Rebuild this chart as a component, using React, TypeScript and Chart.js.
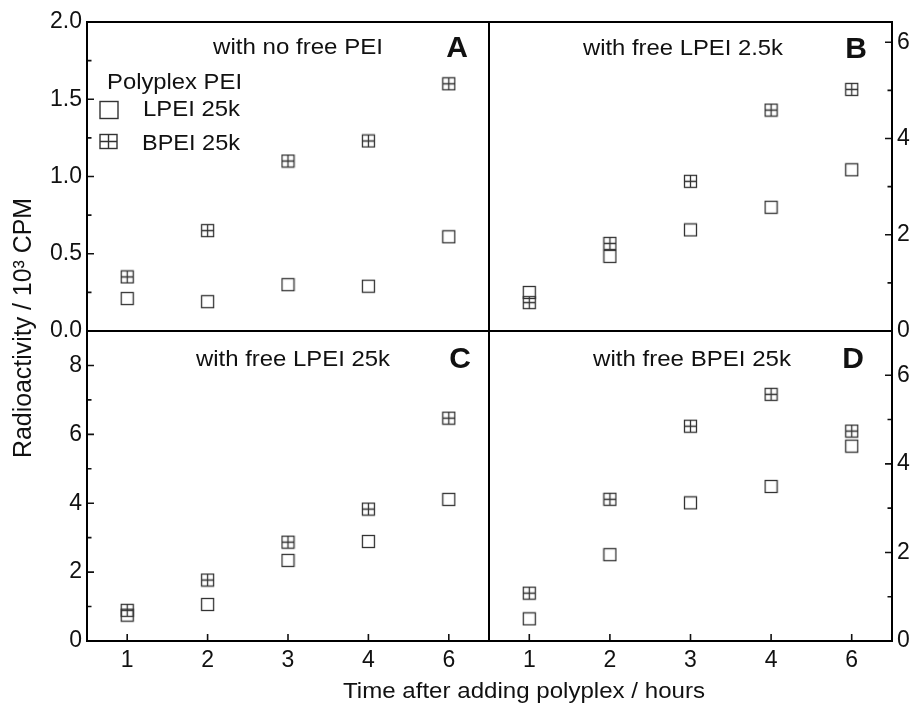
import React, { useEffect, useRef } from 'react';
import { Chart, registerables } from 'chart.js';

Chart.register(...registerables);

// ---------- data ----------
const timeLabels = ['1', '2', '3', '4', '6'];

const noFreeLPEI = [0.21, 0.19, 0.30, 0.29, 0.61];
const noFreeBPEI = [0.35, 0.65, 1.10, 1.23, 1.60];

const lpei25LPEI_B = [0.80, 1.55, 2.10, 2.57, 3.35];
const lpei25BPEI_B = [0.59, 1.82, 3.11, 4.59, 5.02];

const lpei25kLPEI = [0.75, 1.06, 2.34, 2.89, 4.11];
const lpei25kBPEI = [0.89, 1.77, 2.87, 3.83, 6.47];

const bpei25kLPEI = [0.50, 1.95, 3.12, 3.49, 4.40];
const bpei25kBPEI = [1.08, 3.20, 4.85, 5.57, 4.74];

const panelTitles = ['with no free PEI', 'with free LPEI 2.5k', 'with free LPEI 25k', 'with free BPEI 25k'];
const panelLetters = ['A', 'B', 'C', 'D'];
const seriesNames = ['LPEI 25k', 'BPEI 25k'];
const legendTitle = 'Polyplex PEI';
const xTitle = 'Time after adding polyplex / hours';
const yTitle = 'Radioactivity / 10\u00B3 CPM';

const FONT = "'Liberation Sans', Arial, Helvetica, sans-serif";
const W = 912;
const H = 705;

type PanelCfg = {
  lp: number[];
  bp: number[];
  max: number;
  step: number;
  minor: number;
  decimals: number;
  side: 'left' | 'right';
  showX: boolean;
  area: [number, number, number, number];
  title: string;
  titleX: number;
  titleY: number;
  titleW: number;
  letter: string;
  letterX: number;
  letterY: number;
  extra?: boolean;
};

const panels: PanelCfg[] = [
  { lp: noFreeLPEI, bp: noFreeBPEI, max: 2, step: 0.5, minor: 0.25, decimals: 1, side: 'left', showX: false,
    area: [87, 22, 489, 331], title: panelTitles[0], titleX: 298, titleY: 46, titleW: 170,
    letter: panelLetters[0], letterX: 457, letterY: 46, extra: true },
  { lp: lpei25LPEI_B, bp: lpei25BPEI_B, max: 6.42, step: 2, minor: 1, decimals: 0, side: 'right', showX: false,
    area: [489, 22, 892, 331], title: panelTitles[1], titleX: 683, titleY: 47, titleW: 200,
    letter: panelLetters[1], letterX: 856, letterY: 47 },
  { lp: lpei25kLPEI, bp: lpei25kBPEI, max: 9, step: 2, minor: 1, decimals: 0, side: 'left', showX: true,
    area: [87, 331, 489, 641], title: panelTitles[2], titleX: 293, titleY: 358, titleW: 194,
    letter: panelLetters[2], letterX: 460, letterY: 357 },
  { lp: bpei25kLPEI, bp: bpei25kBPEI, max: 7, step: 2, minor: 1, decimals: 0, side: 'right', showX: true,
    area: [489, 331, 892, 641], title: panelTitles[3], titleX: 692, titleY: 358, titleW: 198,
    letter: panelLetters[3], letterX: 853, letterY: 357 },
];

function makeMarker(cross: boolean): HTMLCanvasElement {
  const c = document.createElement('canvas');
  c.width = 15;
  c.height = 15;
  const g = c.getContext('2d')!;
  g.strokeStyle = '#333';
  g.lineWidth = 1.3;
  g.strokeRect(1.5, 1.5, 12, 12);
  if (cross) {
    g.beginPath();
    g.moveTo(7.5, 1.5);
    g.lineTo(7.5, 13.5);
    g.moveTo(1.5, 7.5);
    g.lineTo(13.5, 7.5);
    g.stroke();
  }
  return c;
}

function fitText(
  ctx: CanvasRenderingContext2D, text: string, x: number, cy: number, size: number,
  weight: string, width: number | null, align: CanvasTextAlign = 'center', rotate = 0
) {
  ctx.save();
  ctx.font = `${weight} ${size}px ${FONT}`;
  const m = ctx.measureText(text).width;
  const sx = width ? width / m : 1;
  ctx.translate(x, cy);
  if (rotate) ctx.rotate(rotate);
  ctx.scale(sx, 1);
  ctx.textAlign = align;
  ctx.textBaseline = 'alphabetic';
  ctx.fillStyle = '#111';
  ctx.fillText(text, 0, size * 0.358);
  ctx.restore();
}

function Panel({ cfg }: { cfg: PanelCfg }) {
  const ref = useRef<HTMLCanvasElement>(null);
  useEffect(() => {
    const [l, t, r, b] = cfg.area;
    const yW = cfg.side === 'left' ? 60 : 20;
    const xH = cfg.showX ? 40 : 0;
    const mLP = makeMarker(false);
    const mBP = makeMarker(true);
    const plugin = {
      id: 'panelDecor',
      afterDraw(chart: any) {
        const ctx: CanvasRenderingContext2D = chart.ctx;
        const a = chart.chartArea;
        ctx.save();
        // ticks (inward)
        ctx.strokeStyle = '#111';
        ctx.lineWidth = 1.6;
        const ys = chart.scales.y;
        const xAxis = cfg.side === 'left' ? a.left : a.right;
        const dir = cfg.side === 'left' ? 1 : -1;
        ctx.beginPath();
        ys.ticks.forEach((tk: any) => {
          const y = ys.getPixelForValue(tk.value);
          ctx.moveTo(xAxis, y);
          ctx.lineTo(xAxis + dir * 7, y);
          const mv = tk.value + cfg.minor;
          if (mv < ys.max) {
            const my = ys.getPixelForValue(mv);
            ctx.moveTo(xAxis, my);
            ctx.lineTo(xAxis + dir * 4.5, my);
          }
        });
        if (cfg.showX) {
          const xs = chart.scales.x;
          xs.ticks.forEach((_tk: any, i: number) => {
            const x = xs.getPixelForTick(i);
            ctx.moveTo(x, a.bottom);
            ctx.lineTo(x, a.bottom - 7);
          });
        }
        ctx.stroke();
        // frame
        ctx.strokeStyle = '#000';
        ctx.lineWidth = 2;
        ctx.strokeRect(a.left, a.top, a.right - a.left, a.bottom - a.top);
        // titles
        fitText(ctx, cfg.title, cfg.titleX, cfg.titleY, 22, 'normal', cfg.titleW);
        fitText(ctx, cfg.letter, cfg.letterX, cfg.letterY, 30, 'bold', null);
        if (cfg.extra) {
          // legend
          fitText(ctx, legendTitle, 107, 81, 22, 'normal', 135, 'left');
          fitText(ctx, seriesNames[0], 143, 108, 22, 'normal', 97, 'left');
          fitText(ctx, seriesNames[1], 142, 142, 22, 'normal', 98, 'left');
          ctx.strokeStyle = '#333';
          ctx.lineWidth = 1.4;
          ctx.strokeRect(100, 101.5, 18, 17);
          ctx.strokeRect(100, 134.5, 17, 14);
          ctx.beginPath();
          ctx.moveTo(108.5, 134.5);
          ctx.lineTo(108.5, 148.5);
          ctx.moveTo(100, 141.5);
          ctx.lineTo(117, 141.5);
          ctx.stroke();
          // axis titles
          fitText(ctx, xTitle, 524, 690, 22, 'normal', 362);
          fitText(ctx, yTitle, 22, 328, 25, 'normal', 260, 'center', -Math.PI / 2);
        }
        ctx.restore();
      },
    };

    const chart = new Chart(ref.current!, {
      type: 'line',
      data: {
        labels: timeLabels,
        datasets: [
          { label: seriesNames[0], data: cfg.lp, showLine: false, pointStyle: mLP as any, pointRadius: 6 },
          { label: seriesNames[1], data: cfg.bp, showLine: false, pointStyle: mBP as any, pointRadius: 6 },
        ],
      },
      options: {
        responsive: false,
        animation: false,
        events: [],
        devicePixelRatio: 1,
        layout: {
          padding: {
            left: cfg.side === 'left' ? l - yW : l,
            top: t,
            right: cfg.side === 'right' ? W - r - yW : W - r,
            bottom: H - b - xH,
          },
        },
        plugins: { legend: { display: false }, tooltip: { enabled: false } },
        scales: {
          x: {
            type: 'category',
            offset: true,
            position: 'bottom',
            grid: { display: false, drawTicks: false },
            border: { display: false },
            ticks: {
              display: cfg.showX,
              autoSkip: false,
              maxRotation: 0,
              padding: 6,
              color: '#111',
              font: { family: FONT, size: 23 },
            },
            afterFit: (s: any) => { s.height = xH; },
          },
          y: {
            type: 'linear',
            position: cfg.side,
            min: 0,
            max: cfg.max,
            grid: { display: false, drawTicks: false },
            border: { display: false },
            ticks: {
              stepSize: cfg.step,
              includeBounds: false,
              autoSkip: false,
              padding: 5,
              color: '#111',
              font: { family: FONT, size: 23 },
              callback: (v: any) => Number(v).toFixed(cfg.decimals),
            },
            afterFit: (s: any) => { s.width = yW; },
          },
        },
      },
      plugins: [plugin],
    } as any);
    return () => chart.destroy();
  }, []);
  return (
    <canvas
      ref={ref}
      width={W}
      height={H}
      style={{ position: 'absolute', left: 0, top: 0, width: W, height: H }}
    />
  );
}

export default function App() {
  return (
    <div style={{ position: 'absolute', left: 0, top: 0, width: W, height: H, background: '#fff' }}>
      {panels.map((p, i) => (
        <Panel key={i} cfg={p} />
      ))}
    </div>
  );
}
